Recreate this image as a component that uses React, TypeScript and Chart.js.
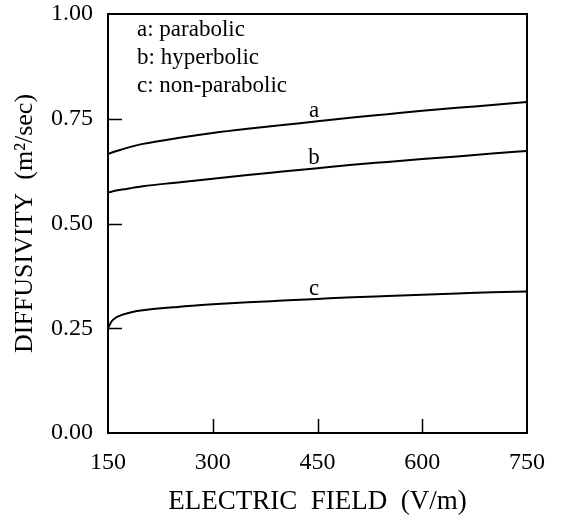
import React, { useEffect, useRef } from 'react';
import { Chart, registerables } from 'chart.js';

Chart.register(...registerables);

// Data
const fieldValues = [150, 155, 160, 170, 185, 200, 250, 300, 350, 400, 450, 500, 550, 600, 650, 700, 750];
const parabolic = [0.666, 0.669, 0.672, 0.677, 0.684, 0.690, 0.704, 0.716, 0.726, 0.735, 0.744, 0.753, 0.761, 0.769, 0.776, 0.783, 0.790];
const hyperbolic = [0.574, 0.576, 0.578, 0.581, 0.585, 0.589, 0.598, 0.607, 0.616, 0.624, 0.632, 0.640, 0.647, 0.654, 0.660, 0.667, 0.673];
const nonParabolic = [0.250, 0.266, 0.274, 0.282, 0.289, 0.293, 0.301, 0.307, 0.312, 0.316, 0.320, 0.324, 0.327, 0.330, 0.333, 0.336, 0.338];
const seriesLetters = ['a', 'b', 'c'];
const legendLines = ['a: parabolic', 'b: hyperbolic', 'c: non-parabolic'];
const xTicks = [150, 300, 450, 600, 750];
const yTicks = [0, 0.25, 0.5, 0.75, 1.0];
const letterField = 450;
const xTitle = 'ELECTRIC  FIELD  (V/m)';
const yTitle = 'DIFFUSIVITY  (m\u00B2/sec)';

const FONT = '"Liberation Serif", "Times New Roman", serif';

const framePlugin = {
  id: 'frameAndText',
  afterDraw(chart: any) {
    const { ctx, chartArea, scales } = chart;
    const { left, right, top, bottom } = chartArea;
    const x = scales.x;
    const y = scales.y;
    ctx.save();
    ctx.strokeStyle = '#000';
    ctx.lineWidth = 2;
    ctx.strokeRect(left, top, right - left, bottom - top);
    ctx.lineWidth = 1.5;
    ctx.beginPath();
    xTicks.slice(1, -1).forEach((v) => {
      const px = Math.round(x.getPixelForValue(v)) + 0.5;
      ctx.moveTo(px, bottom);
      ctx.lineTo(px, bottom - 14);
    });
    yTicks.slice(1, -1).forEach((v) => {
      const py = Math.round(y.getPixelForValue(v)) + 0.5;
      ctx.moveTo(left, py);
      ctx.lineTo(left + 14, py);
    });
    ctx.stroke();

    ctx.fillStyle = '#000';
    ctx.font = `23px ${FONT}`;
    ctx.textBaseline = 'alphabetic';
    ctx.textAlign = 'left';
    legendLines.forEach((t, i) => {
      ctx.fillText(t, left + 29, top + 22 + i * 28);
    });

    ctx.textAlign = 'center';
    const idx = fieldValues.indexOf(letterField);
    chart.data.datasets.forEach((ds: any, i: number) => {
      const px = x.getPixelForValue(letterField - 5);
      const py = y.getPixelForValue(ds.data[idx].y) - 4;
      ctx.fillText(seriesLetters[i], px, py);
    });
    ctx.restore();
  },
};

export default function App() {
  const canvasRef = useRef<HTMLCanvasElement | null>(null);

  useEffect(() => {
    const canvas = canvasRef.current;
    if (!canvas) return;
    const mk = (vals: number[]) => fieldValues.map((f, i) => ({ x: f, y: vals[i] }));
    const lineStyle = {
      borderColor: '#000',
      borderWidth: 2,
      pointRadius: 0,
      fill: false,
      cubicInterpolationMode: 'monotone' as const,
    };
    const chart = new Chart(canvas, {
      type: 'line',
      data: {
        datasets: [
          { label: 'a: parabolic', data: mk(parabolic), ...lineStyle },
          { label: 'b: hyperbolic', data: mk(hyperbolic), ...lineStyle },
          { label: 'c: non-parabolic', data: mk(nonParabolic), ...lineStyle },
        ],
      },
      options: {
        animation: false,
        responsive: false,
        maintainAspectRatio: false,
        layout: { padding: { top: 14, right: 36, left: 0, bottom: 0 } },
        plugins: { legend: { display: false }, tooltip: { enabled: false } },
        scales: {
          x: {
            type: 'linear',
            min: 150,
            max: 750,
            afterBuildTicks: (scale: any) => {
              scale.ticks = xTicks.map((v) => ({ value: v }));
            },
            afterFit: (scale: any) => {
              scale.height = 85;
              scale.paddingLeft = 0;
              scale.paddingRight = 0;
            },
            ticks: {
              color: '#000',
              font: { family: FONT, size: 24 },
              padding: 15,
              maxRotation: 0,
            },
            grid: { display: false, drawTicks: false },
            border: { display: false },
            title: {
              display: true,
              text: xTitle,
              color: '#000',
              font: { family: FONT, size: 27 },
              padding: { top: 1, bottom: 0 },
            },
          },
          y: {
            type: 'linear',
            min: 0,
            max: 1,
            afterBuildTicks: (scale: any) => {
              scale.ticks = yTicks.map((v) => ({ value: v }));
            },
            afterFit: (scale: any) => {
              scale.width = 108;
              scale.paddingTop = 0;
              scale.paddingBottom = 0;
            },
            ticks: {
              color: '#000',
              font: { family: FONT, size: 24 },
              padding: 15,
              callback: (v: any) => Number(v).toFixed(2),
            },
            grid: { display: false, drawTicks: false },
            border: { display: false },
            title: {
              display: true,
              text: yTitle,
              color: '#000',
              font: { family: FONT, size: 26 },
              padding: { top: 10, bottom: 0 },
            },
          },
        },
      },
      plugins: [framePlugin],
    });
    return () => chart.destroy();
  }, []);

  return (
    <div style={{ position: 'fixed', left: 0, top: 0, width: 563, height: 518, background: '#fff' }}>
      <canvas ref={canvasRef} width={563} height={518} style={{ display: 'block', width: 563, height: 518 }} />
    </div>
  );
}
